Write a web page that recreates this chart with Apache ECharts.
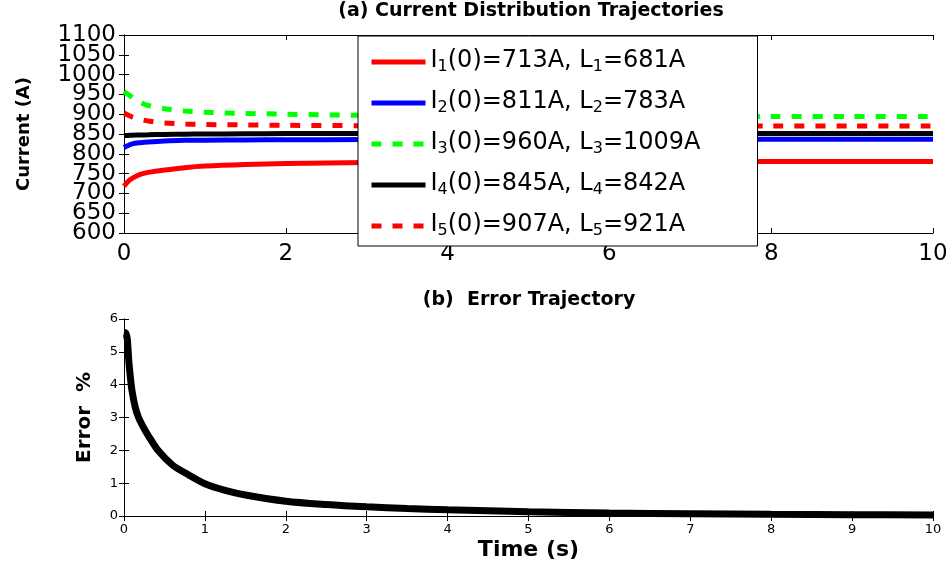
<!DOCTYPE html>
<html>
<head>
<meta charset="utf-8">
<script src="https://cdn.jsdelivr.net/npm/echarts@6/dist/echarts.min.js"></script>
<style>html,body{margin:0;padding:0;background:#fff;}#c{width:952px;height:564px;}</style>
</head>
<body>
<div id="c"></div>
<script>
// ---- data ----
const seriesKeys = ['1', '2', '3', '4', '5'];
const initCurrents = [713, 811, 960, 845, 907];
const limitCurrents = [681, 783, 1009, 842, 921];
const tTop = [0, 0.05, 0.1, 0.2, 0.3, 0.5, 0.75, 1, 1.5, 2, 3, 4, 5, 6, 7, 8, 9, 10];
const i1 = [718, 730, 738, 748, 753, 759, 765, 769, 773, 775.5, 778, 779, 780, 780.5, 780.5, 780.5, 780.5, 780.5];
const i2 = [816, 821, 825, 828, 830, 832.5, 834, 834.5, 835, 835.5, 836, 836.5, 836.5, 836.5, 836.5, 836.5, 836.5, 836.5];
const i3 = [957, 950, 943, 930, 922, 914, 908, 905, 902, 900, 897, 895.5, 895, 894.5, 894.5, 894.5, 894.5, 894.5];
const i4 = [846, 846.5, 847, 847.5, 848, 849, 849.5, 850, 850.5, 851, 851.5, 851.5, 851.5, 851.5, 851.5, 851.5, 851.5, 851.5];
const i5 = [903, 898, 893, 887, 883, 878, 875, 874, 873, 872, 871, 870.5, 870.5, 870.5, 870.5, 870.5, 870.5, 870.5];
const tErr = [0, 0.02, 0.04, 0.06, 0.08, 0.1, 0.14, 0.18, 0.24, 0.3, 0.42, 0.6, 0.8, 1, 1.25, 1.5, 2, 2.5, 3, 3.5, 4, 5, 6, 7, 8, 9, 10];
const errPct = [5.6, 5.58, 5.4, 4.7, 4.2, 3.8, 3.3, 3.0, 2.7, 2.45, 2.0, 1.55, 1.25, 0.98, 0.78, 0.64, 0.45, 0.35, 0.28, 0.23, 0.19, 0.13, 0.09, 0.07, 0.05, 0.04, 0.03];
const titleA = '(a) Current Distribution Trajectories';
const titleB = '(b)  Error Trajectory';

// ---- build ----
const FONT = 'DejaVu Sans';
const pair = (ts, vs) => ts.map((t, i) => [t, vs[i]]);
const topVals = [i1, i2, i3, i4, i5];
const colors = ['#ff0000', '#0000ff', '#00ff00', '#000000', '#ff0000'];
const dashed = [false, false, true, false, true];
const names = seriesKeys.map(k => 'I' + k);

const topSeries = topVals.map((vals, i) => ({
  name: names[i], type: 'line', xAxisIndex: 0, yAxisIndex: 0,
  data: pair(tTop, vals), symbol: 'none', smooth: 0.3,
  lineStyle: { color: colors[i], width: 5, type: dashed[i] ? [10, 11] : 'solid', cap: 'butt' },
  itemStyle: { color: colors[i] }
}));

function boxAxis(common, extra) { return Object.assign({}, common, extra); }
const tick = { show: true, inside: true, length: 5, lineStyle: { color: '#000', width: 1 } };
const line = { show: true, lineStyle: { color: '#000', width: 1 } };
const plain = v => String(v);

const xTop = { type: 'value', min: 0, max: 10, interval: 2, gridIndex: 0, axisLine: line, axisTick: tick, splitLine: { show: false } };
const yTop = { type: 'value', min: 600, max: 1100, interval: 50, gridIndex: 0, axisLine: line, axisTick: tick, splitLine: { show: false } };
const xBot = { type: 'value', min: 0, max: 10, interval: 1, gridIndex: 1, axisLine: line, axisTick: tick, splitLine: { show: false } };
const yBot = { type: 'value', min: 0, max: 6, interval: 1, gridIndex: 1, axisLine: line, axisTick: tick, splitLine: { show: false } };

const bigLabel = { fontFamily: FONT, fontSize: 23, color: '#000', formatter: plain, hideOverlap: false };
const smallLabel = { fontFamily: FONT, fontSize: 13, color: '#000', formatter: plain, showMinLabel: true, showMaxLabel: true, hideOverlap: false };

const option = {
  animation: false,
  backgroundColor: '#fff',
  grid: [
    { left: 124, top: 35, width: 809, height: 198, outerBoundsMode: 'none' },
    { left: 124, top: 319, width: 809, height: 197, outerBoundsMode: 'none' }
  ],
  xAxis: [
    boxAxis(xTop, { position: 'bottom', axisLabel: Object.assign({}, bigLabel, { margin: 10, showMinLabel: true, showMaxLabel: true }) }),
    boxAxis(xTop, { position: 'top', axisLabel: { show: false } }),
    boxAxis(xBot, { position: 'bottom', axisLabel: Object.assign({ margin: 7 }, smallLabel),
      name: 'Time (s)', nameLocation: 'middle', nameGap: 23,
      nameTextStyle: { fontFamily: FONT, fontSize: 22, fontWeight: 'bold', color: '#000' } }),
    boxAxis(xBot, { position: 'top', axisLabel: { show: false } })
  ],
  yAxis: [
    // inner labels (650 ... 1050) and all ticks
    boxAxis(yTop, { position: 'left', axisLabel: Object.assign({ margin: 8, showMinLabel: false, showMaxLabel: false }, bigLabel),
      name: 'Current (A)', nameLocation: 'middle', nameGap: 91, nameRotate: 90,
      nameTextStyle: { fontFamily: FONT, fontSize: 18, fontWeight: 'bold', color: '#000' } }),
    boxAxis(yTop, { position: 'right', axisLabel: { show: false } }),
    boxAxis(yBot, { position: 'left', axisLabel: Object.assign({ margin: 6 }, smallLabel),
      name: 'Error  %', nameLocation: 'middle', nameGap: 29, nameRotate: 90,
      nameTextStyle: { fontFamily: FONT, fontSize: 20, fontWeight: 'bold', color: '#000' } }),
    boxAxis(yBot, { position: 'right', axisLabel: { show: false } }),
    // end labels 600 and 1100 of the top current axis
    { type: 'value', min: 600, max: 1100, interval: 500, gridIndex: 0, position: 'left',
      axisLine: { show: false }, axisTick: { show: false }, splitLine: { show: false },
      axisLabel: Object.assign({ margin: 8, showMinLabel: true, showMaxLabel: true }, bigLabel) }
  ],
  legend: {
    data: names, orient: 'vertical', left: 358, top: 36,
    padding: [6, 57, 7, 11], itemGap: 8, itemWidth: 54, itemHeight: 14,
    backgroundColor: '#fff', borderColor: '#000', borderWidth: 1,
    itemStyle: { opacity: 0, borderWidth: 0 },
    lineStyle: { width: 5 },
    formatter: function (name) {
      const i = names.indexOf(name);
      const k = seriesKeys[i];
      return '{m|I}{s|' + k + '}{m|(0)=' + initCurrents[i] + 'A, L}{s|' + k + '}{m|=' + limitCurrents[i] + 'A}';
    },
    textStyle: {
      color: '#000',
      rich: {
        m: { fontFamily: FONT, fontSize: 24, lineHeight: 26, verticalAlign: 'top', color: '#000' },
        s: { fontFamily: FONT, fontSize: 16, lineHeight: 16, padding: [17, 0, 0, 0], verticalAlign: 'bottom', color: '#000' }
      }
    }
  },
  graphic: [
    { type: 'text', x: 531, y: 11, style: { text: titleA, fill: '#000', font: 'bold 19px "DejaVu Sans"', textAlign: 'center', textVerticalAlign: 'middle' } },
    { type: 'text', x: 529, y: 300, style: { text: titleB, fill: '#000', font: 'bold 19px "DejaVu Sans"', textAlign: 'center', textVerticalAlign: 'middle' } }
  ],
  series: topSeries.concat([{
    name: 'Error', type: 'line', xAxisIndex: 2, yAxisIndex: 2,
    data: pair(tErr, errPct), symbol: 'none', smooth: 0.3,
    lineStyle: { color: '#000', width: 7, cap: 'butt' }
  }])
};

const chart = echarts.init(document.getElementById('c'), null, { renderer: 'canvas' });
chart.setOption(option);
</script>
</body>
</html>
